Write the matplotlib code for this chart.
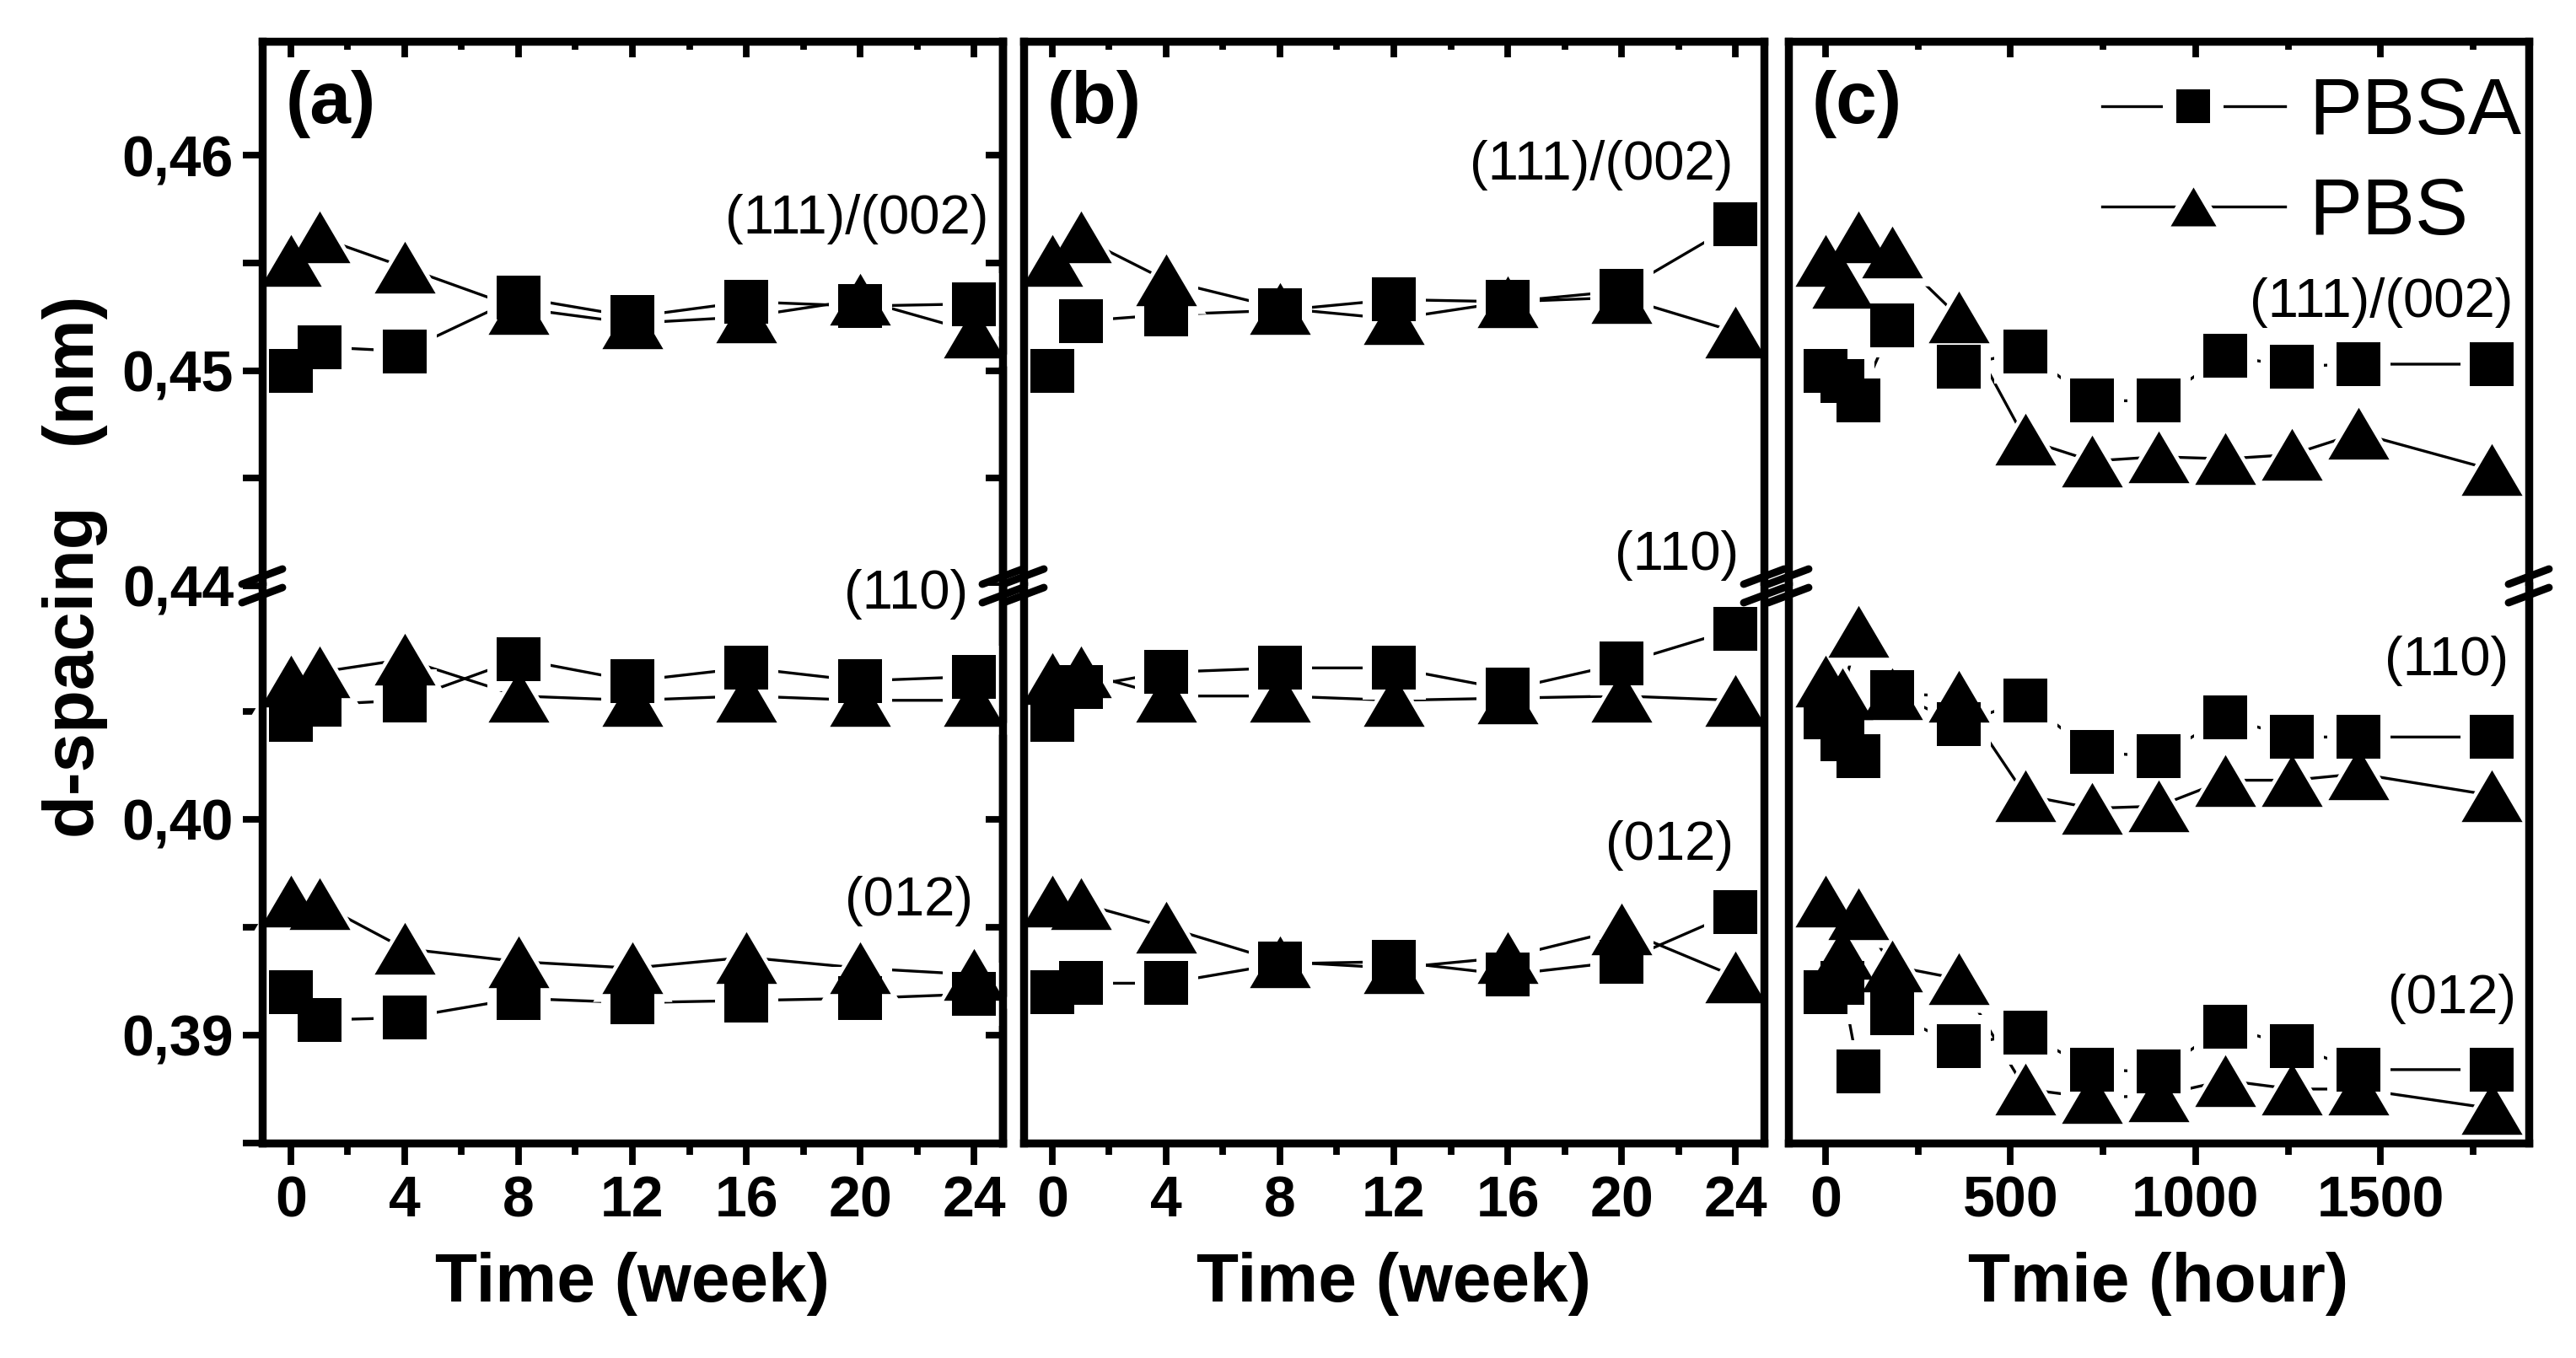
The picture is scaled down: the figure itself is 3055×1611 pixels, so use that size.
import numpy as np
import matplotlib.pyplot as plt
from matplotlib.ticker import FuncFormatter, FixedLocator
from matplotlib.lines import Line2D

plt.rcParams['font.family'] = ['Liberation Sans', 'DejaVu Sans']

# ---- data ----
weeks = [0, 1, 4, 8, 12, 16, 20, 24]
hours = [0, 45, 90, 180, 360, 540, 720, 900, 1080, 1260, 1440, 1800]

# panel (a)
a_111_pbsa = [0.4500, 0.4511, 0.4509, 0.4534, 0.4525, 0.4532, 0.4530, 0.4531]
a_111_pbs = [0.4551, 0.4562, 0.4548, 0.4529, 0.4522, 0.4525, 0.4533, 0.4518]
a_110_pbsa = [0.4046, 0.4053, 0.4055, 0.4074, 0.4064, 0.4070, 0.4064, 0.4066]
a_110_pbs = [0.4064, 0.4068, 0.4074, 0.4057, 0.4055, 0.4057, 0.4055, 0.4055]
a_012_pbsa = [0.3920, 0.3907, 0.3908, 0.3917, 0.3915, 0.3916, 0.3917, 0.3919]
a_012_pbs = [0.3962, 0.3961, 0.3940, 0.3934, 0.3931, 0.3936, 0.3931, 0.3928]

# panel (b)
b_111_pbsa = [0.4500, 0.4523, 0.4526, 0.4528, 0.4533, 0.4532, 0.4537, 0.4568]
b_111_pbs = [0.4551, 0.4562, 0.4542, 0.4529, 0.4524, 0.4532, 0.4534, 0.4518]
b_110_pbsa = [0.4046, 0.4061, 0.4068, 0.4070, 0.4070, 0.4060, 0.4072, 0.4088]
b_110_pbs = [0.4065, 0.4068, 0.4057, 0.4057, 0.4055, 0.4056, 0.4057, 0.4055]
b_012_pbsa = [0.3920, 0.3924, 0.3924, 0.3933, 0.3934, 0.3928, 0.3934, 0.3957]
b_012_pbs = [0.3962, 0.3961, 0.3950, 0.3934, 0.3931, 0.3936, 0.3949, 0.3927]

# panel (c)
c_111_pbsa = [0.4500, 0.4495, 0.4486, 0.4521, 0.4502, 0.4509, 0.4486, 0.4486, 0.4507, 0.4502, 0.4503, 0.4503]
c_111_pbs = [0.4551, 0.4541, 0.4562, 0.4555, 0.4525, 0.4468, 0.4458, 0.4460, 0.4459, 0.4461, 0.4471, 0.4454]
c_110_pbsa = [0.4047, 0.4037, 0.4029, 0.4059, 0.4044, 0.4055, 0.4031, 0.4029, 0.4047, 0.4038, 0.4038, 0.4038]
c_110_pbs = [0.4064, 0.4058, 0.4087, 0.4058, 0.4057, 0.4011, 0.4005, 0.4006, 0.4018, 0.4018, 0.4021, 0.4011]
c_012_pbsa = [0.3920, 0.3924, 0.3883, 0.3910, 0.3895, 0.3901, 0.3884, 0.3883, 0.3904, 0.3895, 0.3884, 0.3884]
c_012_pbs = [0.3962, 0.3938, 0.3956, 0.3932, 0.3926, 0.3875, 0.3871, 0.3872, 0.3879, 0.3875, 0.3875, 0.3866]

panel_tags = ['(a)', '(b)', '(c)']
xlabels = ['Time (week)', 'Time (week)', 'Tmie (hour)']
series_names = ['PBSA', 'PBS']

# ---- layout (pixels of the 3055x1611 canvas) ----
W, H, DPI = 3055, 1611, 200
fig = plt.figure(figsize=(W / DPI, H / DPI), dpi=DPI)

panel_x = [(311, 1189), (1214, 2092), (2121, 2999)]
top_px, brk_px, bot_px = 49, 695, 1356

tri = [(-1, -0.85), (1, -0.85), (0, 0.85)]
sq_ms, tri_ms = 19, 26
halo = 8          # white rim round each symbol, cuts the joining lines like Origin does
lw_frame = 3.4
comma = FuncFormatter(lambda v, p: f'{v:.2f}'.replace('.', ','))


def fx(px):
    return px / W


def fy(py):
    return 1 - py / H


def draw_pair(ax, x, y1, y2):
    for y, mk, ms in ((y1, 's', sq_ms), (y2, tri, tri_ms)):
        ax.plot(x, y, color='k', lw=1.2, zorder=2, clip_on=False)
        ax.plot(x, y, ls='none', marker=mk, ms=ms + halo, mew=0, color='white',
                zorder=2.2, clip_on=False)
    for y, mk, ms in ((y1, 's', sq_ms), (y2, tri, tri_ms)):
        ax.plot(x, y, ls='none', marker=mk, ms=ms, mew=0, color='k', zorder=3, clip_on=False)


def break_mark(xpx, ypx):
    for dy in (-11, 11):
        fig.add_artist(Line2D([fx(xpx - 24), fx(xpx + 24)],
                              [fy(ypx + dy + 9), fy(ypx + dy - 9)],
                              color='k', lw=3.2, solid_capstyle='round'))


panels = [
    (weeks, (a_111_pbsa, a_111_pbs), (a_110_pbsa, a_110_pbs), (a_012_pbsa, a_012_pbs)),
    (weeks, (b_111_pbsa, b_111_pbs), (b_110_pbsa, b_110_pbs), (b_012_pbsa, b_012_pbs)),
    (hours, (c_111_pbsa, c_111_pbs), (c_110_pbsa, c_110_pbs), (c_012_pbsa, c_012_pbs)),
]

# where the reflection labels sit (axes fractions)
ann = [
    [(0.981, 0.673), (0.954, 0.985), (0.960, 0.434)],
    [(0.958, 0.772), (0.966, 0.055), (0.959, 0.534)],
    [(0.979, 0.520), (0.973, 0.865), (0.983, 0.259)],
]

for i, (x, r111, r110, r012) in enumerate(panels):
    x0, x1 = panel_x[i]
    ax_t = fig.add_axes([fx(x0), fy(brk_px), fx(x1 - x0), (brk_px - top_px) / H])
    ax_b = fig.add_axes([fx(x0), fy(bot_px), fx(x1 - x0), (bot_px - brk_px) / H])

    draw_pair(ax_t, x, *r111)
    draw_pair(ax_b, x, *r110)
    draw_pair(ax_b, x, *r012)

    ax_t.set_ylim(0.44, 0.4653)
    ax_b.set_ylim(0.385, 0.4108)

    if i < 2:
        xlim, major, minor = (-1, 25), np.arange(0, 25, 4), np.arange(2, 24, 4)
    else:
        xlim, major, minor = (-100, 1900), [0, 500, 1000, 1500], [250, 750, 1250, 1750]
    for ax in (ax_t, ax_b):
        ax.set_xlim(*xlim)
        ax.xaxis.set_major_locator(FixedLocator(major))
        ax.xaxis.set_minor_locator(FixedLocator(minor))
        for s in ax.spines.values():
            s.set_linewidth(lw_frame)

    ax_t.spines['bottom'].set_visible(False)
    ax_b.spines['top'].set_visible(False)

    ax_t.tick_params(axis='x', which='both', bottom=False, top=True, labelbottom=False,
                     direction='in', width=2.8)
    ax_t.tick_params(axis='x', which='major', length=7)
    ax_t.tick_params(axis='x', which='minor', length=3.6)
    ax_b.tick_params(axis='x', which='both', bottom=True, top=False, direction='out', width=2.8)
    ax_b.tick_params(axis='x', which='major', length=9.4, pad=4, labelsize=24.5)
    ax_b.tick_params(axis='x', which='minor', length=5)
    for lab in ax_b.get_xticklabels():
        lab.set_fontweight('bold')
    ax_b.set_xlabel(xlabels[i], fontsize=29.5, fontweight='bold', labelpad=10)

    ax_t.yaxis.set_major_locator(FixedLocator([0.44, 0.45, 0.46]))
    ax_t.yaxis.set_minor_locator(FixedLocator([0.445, 0.455]))
    ax_b.yaxis.set_major_locator(FixedLocator([0.39, 0.40]))
    ax_b.yaxis.set_minor_locator(FixedLocator([0.385, 0.395, 0.405]))

    if i == 0:
        for ax, maj, mnr in ((ax_t, [0.44, 0.45, 0.46], [0.445, 0.455]),
                             (ax_b, [0.39, 0.40], [0.385, 0.395, 0.405])):
            ax.yaxis.set_major_formatter(comma)
            ax.tick_params(axis='y', which='both', left=True, right=False, direction='out',
                           length=8.2, width=2.8, pad=4, labelsize=24.5)
            for lab in ax.get_yticklabels():
                lab.set_fontweight('bold')
            sec = ax.secondary_yaxis('right')
            sec.set_yticks(maj)
            sec.yaxis.set_minor_locator(FixedLocator(mnr))
            sec.tick_params(axis='y', which='both', direction='in', length=7.2, width=2.8,
                            labelright=False)
            sec.spines['right'].set_linewidth(lw_frame)
    else:
        for ax in (ax_t, ax_b):
            ax.tick_params(axis='y', which='both', left=False, right=False, labelleft=False)

    # reflection labels
    (p1, p2, p3) = ann[i]
    ax_t.text(p1[0], p1[1], '(111)/(002)', transform=ax_t.transAxes, ha='right', va='center',
              fontsize=23.5)
    if i == 1:
        ax_t.text(p2[0], p2[1], '(110)', transform=ax_t.transAxes, ha='right', va='center',
                  fontsize=23.5)
    else:
        ax_b.text(p2[0], p2[1], '(110)', transform=ax_b.transAxes, ha='right', va='center',
                  fontsize=23.5, clip_on=False)
    ax_b.text(p3[0], p3[1], '(012)', transform=ax_b.transAxes, ha='right', va='center',
              fontsize=23.5)

    ax_t.text(0.031, 0.948, panel_tags[i], transform=ax_t.transAxes, ha='left', va='top',
              fontsize=31.5, fontweight='bold')

    break_mark(x0, brk_px)
    break_mark(x1, brk_px)

    if i == 2:
        handles = []
        for mk, ms in (('s', sq_ms * 0.75), (tri, tri_ms * 0.75)):
            handles.append((Line2D([], [], color='k', lw=1.2),
                            Line2D([], [], ls='none', marker=mk, ms=ms + 12, mew=0, color='white'),
                            Line2D([], [], ls='none', marker=mk, ms=ms, mew=0, color='k')))
        ax_t.legend(handles, series_names, loc='upper right', bbox_to_anchor=(0.99, 0.937),
                    frameon=False, fontsize=34, handlelength=2.3, handletextpad=0.3,
                    labelspacing=0.32, borderpad=0, borderaxespad=0, numpoints=1)

fig.text(fx(89), fy(672), 'd-spacing   (nm)', rotation=90, ha='center', va='center',
         fontsize=30, fontweight='bold')

fig.savefig('out.png', dpi=DPI)
